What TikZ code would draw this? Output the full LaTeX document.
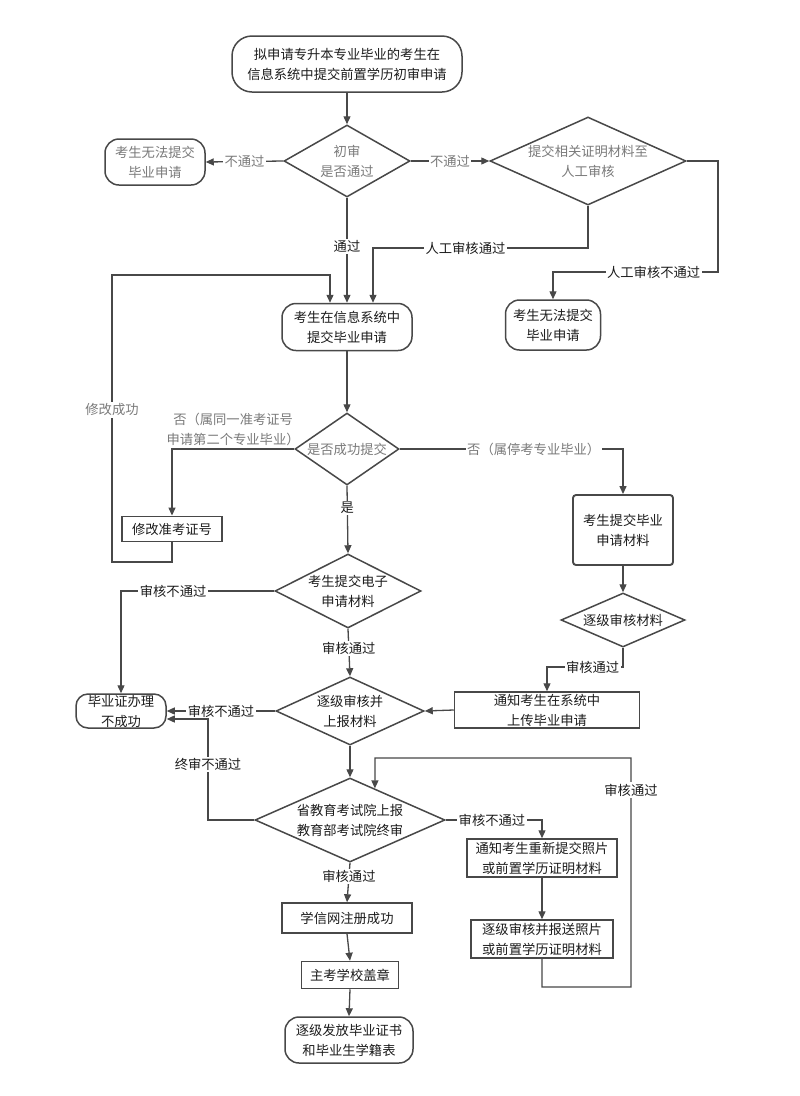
\documentclass[tikz,border=0pt]{standalone}
\usepackage{fontspec}
\setmainfont{Noto Sans CJK SC}
\usetikzlibrary{arrows.meta,shapes.geometric,calc}
\definecolor{lc}{HTML}{484848}
\definecolor{gt}{HTML}{7A7A7A}
\definecolor{bt}{HTML}{1C1C1C}
\begin{document}
\begin{tikzpicture}[x=1pt,y=-1pt,
  base/.style={draw=lc, line width=1.5pt, text=bt, font=\fontsize{13.3}{20}\selectfont, align=center, inner sep=0pt},
  rnd/.style={base, rectangle, rounded corners=14pt},
  box/.style={base, rectangle},
  dia/.style={draw=lc, line width=1.5pt, diamond, inner sep=0pt},
  txt/.style={text=bt, font=\fontsize{13.3}{20}\selectfont, align=center, inner sep=1pt},
  lab/.style={txt, fill=white, inner sep=1.5pt},
  glab/.style={lab, text=gt},
  ln/.style={draw=lc, line width=1.3pt},
  ar/.style={ln, -{Triangle[length=8pt,width=7pt]}},
]
\fill[white] (0,0) rectangle (800,1096);
\useasboundingbox (0,0) rectangle (800,1096);

% nodes
\node[rnd, rounded corners=20pt, minimum width=230pt, minimum height=56pt] (start) at (347,64) {拟申请专升本专业毕业的考生在\\信息系统中提交前置学历初审申请};
\node[dia, minimum width=126pt, minimum height=72pt] (d1) at (347,161) {};
\node[txt, text=gt] at (d1) {初审\\是否通过};
\node[rnd, text=gt, minimum width=100pt, minimum height=46pt] (fail1) at (155,162) {考生无法提交\\毕业申请};
\node[dia, minimum width=196pt, minimum height=88pt] (d2) at (588,161) {};
\node[txt, text=gt] at (d2) {提交相关证明材料至\\人工审核};
\node[rnd, minimum width=130pt, minimum height=47pt] (sub) at (347,327) {考生在信息系统中\\提交毕业申请};
\node[rnd, minimum width=95pt, minimum height=50pt] (fail2) at (553,325) {考生无法提交\\毕业申请};
\node[dia, minimum width=104pt, minimum height=72pt] (d3) at (347,449) {};
\node[txt, text=gt] at (d3) {是否成功提交};
\node[box, line width=1.9pt, minimum width=100pt, minimum height=25pt] (fix) at (172,529) {修改准考证号};
\node[box, line width=1.9pt, rounded corners=3pt, minimum width=100pt, minimum height=70pt] (mat) at (623,530) {考生提交毕业\\申请材料};
\node[dia, minimum width=146pt, minimum height=74pt] (d4) at (348,591) {};
\node[txt] at (d4) {考生提交电子\\申请材料};
\node[dia, minimum width=124pt, minimum height=54pt] (d5) at (623,620) {};
\node[txt] at (d5) {逐级审核材料};
\node[rnd, rounded corners=12pt, minimum width=90pt, minimum height=34pt] (fail3) at (121,711) {毕业证办理\\不成功};
\node[dia, minimum width=148pt, minimum height=68pt] (d6) at (350,711) {};
\node[txt] at (d6) {逐级审核并\\上报材料};
\node[box, minimum width=185pt, minimum height=36pt] (notify) at (547,710) {通知考生在系统中\\上传毕业申请};
\node[dia, minimum width=190pt, minimum height=84pt] (d7) at (350,820) {};
\node[txt] at (d7) {省教育考试院上报\\教育部考试院终审};
\node[box, minimum width=150pt, minimum height=38pt] (photo1) at (542,858) {通知考生重新提交照片\\或前置学历证明材料};
\node[box, minimum width=142pt, minimum height=38pt] (photo2) at (542,939) {逐级审核并报送照片\\或前置学历证明材料};
\node[box, minimum width=130pt, minimum height=30pt] (reg) at (347,918) {学信网注册成功};
\node[box, minimum width=97pt, minimum height=27pt] (stamp) at (350,975) {主考学校盖章};
\node[rnd, minimum width=128pt, minimum height=46pt] (final) at (349,1040) {逐级发放毕业证书\\和毕业生学籍表};

% connectors
\draw[ar] (start.south) -- (d1.north);
\draw[ar] (d1.west) -- node[glab]{不通过} (fail1.east);
\draw[ar] (d1.east) -- node[glab]{不通过} (d2.west);
\draw[ar] (d1.south) -- node[lab, pos=.46]{通过} (sub.north);
\draw[ar] (d2.south) -- (588,248) -- node[lab, pos=.57]{人工审核通过} (373,248) -- ([xshift=26pt]sub.north);
\draw[ar] (d2.east) -- (718,161) -- (718,272) -- node[lab, pos=.39]{人工审核不通过} (553,272) -- (fail2.north);
\draw[ar] (fix.south) -- (172,562) -- (112,562) -- node[glab, pos=.53]{修改成功} (112,275) -- (330,275) -- ([xshift=-17pt]sub.north);
\draw[ar] (sub.south) -- (d3.north);
\draw[ar] (d3.west) -| node[glab, fill=none, pos=.25, above=1pt]{否（属同一准考证号\\申请第二个专业毕业）} (fix.north);
\draw[ar] (d3.east) -| node[glab, pos=.3]{否（属停考专业毕业）} (mat.north);
\draw[ar] (d3.south) -- node[lab, pos=.33]{是} (d4.north);
\draw[ar] (d4.west) -| node[lab, pos=.33]{审核不通过} (fail3.north);
\draw[ar] (d4.south) -- node[lab, pos=.41]{审核通过} (d6.north);
\draw[ar] (mat.south) -- (d5.north);
\draw[ar] (d5.south) -- (623,667) -| node[lab, pos=.2]{审核通过} (notify.north);
\draw[ar] (notify.west) -- (d6.east);
\draw[ar] (d6.west) -- node[lab]{审核不通过} (fail3.east);
\draw[ar] (d7.west) -- (208,820) -- node[lab, pos=.55]{终审不通过} (208,719) -- ([yshift=-8pt]fail3.east);
\draw[ar] (d6.south) -- (d7.north);
\draw[ar] (d7.east) -| node[lab, pos=.24]{审核不通过} (photo1.north);
\draw[ar] (photo1.south) -- (photo2.north);
\draw[ar] (photo2.south) -- (542,987) -- (631,987) -- node[lab, pos=.86]{审核通过} (631,758) -- (375,758) -- ($(d7.north)!0.26!(d7.east)$);
\draw[ar] (d7.south) -- node[lab, pos=.34]{审核通过} (reg.north);
\draw[ar] (reg.south) -- (stamp.north);
\draw[ar] (stamp.south) -- (final.north);
\end{tikzpicture}
\end{document}
